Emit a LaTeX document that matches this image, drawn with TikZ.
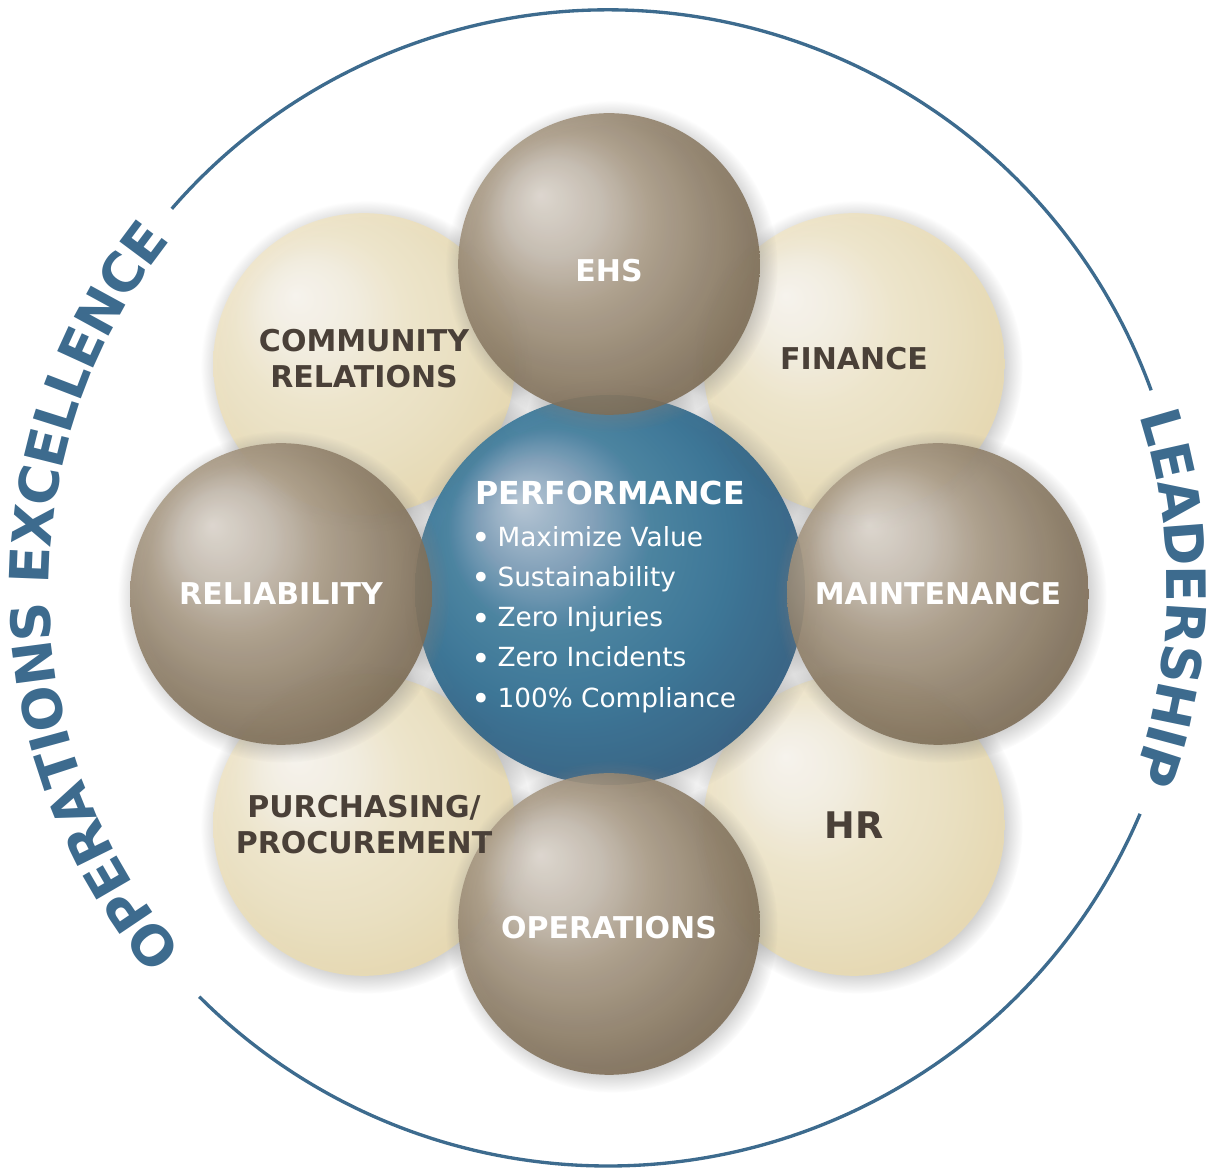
\documentclass[tikz,border=0pt]{standalone}
\usepackage{fontspec}
\setmainfont{DejaVu Sans}
\usetikzlibrary{shadows,decorations.text}

\definecolor{ringblue}{RGB}{61,107,142}
\definecolor{lbldark}{RGB}{74,64,56}
% brown sphere
\definecolor{brA}{RGB}{224,217,208}
\definecolor{brB}{RGB}{198,188,175}
\definecolor{brC}{RGB}{172,157,136}
\definecolor{brD}{RGB}{146,130,107}
\definecolor{brE}{RGB}{121,104,81}
\definecolor{brF}{RGB}{112,96,73}
% cream sphere
\definecolor{crA}{RGB}{250,247,240}
\definecolor{crB}{RGB}{245,239,224}
\definecolor{crC}{RGB}{240,231,205}
\definecolor{crD}{RGB}{236,225,192}
\definecolor{crE}{RGB}{231,217,176}
\definecolor{crF}{RGB}{228,212,166}
% blue sphere
\definecolor{blA}{RGB}{182,199,214}
\definecolor{blB}{RGB}{128,160,186}
\definecolor{blC}{RGB}{66,126,158}
\definecolor{blD}{RGB}{50,112,146}
\definecolor{blE}{RGB}{46,90,127}
\definecolor{blF}{RGB}{44,84,120}

% sphere shadings, light spot up left (circle edge sits at 25bp)
\pgfdeclareradialshading{ballbrown}{\pgfpoint{-11.5bp}{11.5bp}}{color(0bp)=(brA); color(8bp)=(brB); color(14bp)=(brC); color(22bp)=(brD); color(30bp)=(brE); color(40bp)=(brF)}
\pgfdeclareradialshading{ballcream}{\pgfpoint{-11.5bp}{11.5bp}}{color(0bp)=(crA); color(8bp)=(crB); color(14bp)=(crC); color(22bp)=(crD); color(30bp)=(crE); color(40bp)=(crF)}
\pgfdeclareradialshading{ballblue}{\pgfpoint{-11.5bp}{11.5bp}}{color(0bp)=(blA); color(7bp)=(blB); color(13bp)=(blC); color(21bp)=(blD); color(30bp)=(blE); color(40bp)=(blF)}

\newcommand\pbul{\makebox[13.4pt][l]{\hspace{-2.5pt}\raisebox{-2pt}{\fontsize{20}{20}\selectfont•}}}

\begin{document}
\begin{tikzpicture}[x=0.6pt, y=0.6pt,
    sphere/.style={circle, inner sep=0pt, minimum size=181pt,
                   circular drop shadow={shadow xshift=1.5pt, shadow yshift=-1.5pt, opacity=.45}},
    brownball/.style={sphere, shading=ballbrown, fill opacity=.88},
    creamball/.style={sphere, shading=ballcream, fill opacity=.94},
    darklbl/.style={text=lbldark, font=\fontsize{18}{21.6}\selectfont\bfseries, align=center},
    lightlbl/.style={text=white, font=\fontsize{18}{21.6}\selectfont\bfseries, align=center},
    ring/.style={draw=ringblue, line width=2pt},
    ringtext/.style={decorate, decoration={text along path, text align=center,
                     raise=-11.5pt, text color=ringblue,
                     text={|\fontsize{32.5}{32}\selectfont\bfseries|#1}}}]

  \useasboundingbox (0,0) rectangle (1208,1170);

  % outer ring, open left and right for the titles
  \draw[ring] (608,582) ++(20:578) arc[start angle=20, end angle=139, radius=578];
  \draw[ring] (608,582) ++(225:578) arc[start angle=225, end angle=337, radius=578];
  \path[ringtext={OPERATIONS EXCELLENCE}] (608,582) ++(226:578) arc[start angle=226, end angle=136, radius=578];
  \path[ringtext={LEADERSHIP}] (608,582) ++(24:578) arc[start angle=24, end angle=-26, radius=578];

  % cream spheres
  \node[creamball] (com) at (364,806) {};
  \node[creamball] (fin) at (854,806) {};
  \node[creamball] (pur) at (364,345) {};
  \node[creamball] (hr)  at (854,345) {};

  % centre sphere
  \node[sphere, minimum size=234pt, shading=ballblue, fill opacity=.92] (perf) at (610,580) {};

  % brown spheres
  \node[brownball] (ehs) at (609,906) {};
  \node[brownball] (rel) at (281,576) {};
  \node[brownball] (mnt) at (938,576) {};
  \node[brownball] (ops) at (609,246) {};

  % labels on top
  \node[darklbl, yshift=3pt] (com-t) at (com) {COMMUNITY\\RELATIONS};
  \node[darklbl, yshift=3.5pt] (fin-t) at (fin) {FINANCE};
  \node[darklbl] (pur-t) at (pur) {PURCHASING/\\PROCUREMENT};
  \node[darklbl, font=\fontsize{22}{22}\selectfont\bfseries] (hr-t) at (hr) {HR};
  \node[lightlbl, yshift=-4pt] (ehs-t) at (ehs) {EHS};
  \node[lightlbl] (rel-t) at (rel) {RELIABILITY};
  \node[lightlbl] (mnt-t) at (mnt) {MAINTENANCE};
  \node[lightlbl, yshift=-2pt] (ops-t) at (ops) {OPERATIONS};

  \node[text=white, align=left, font=\fontsize{15.8}{24.2}\selectfont, yshift=-4pt] (perf-t) at (perf)
    {{\fontsize{19}{24}\selectfont\bfseries PERFORMANCE}\\[1pt]
     \pbul Maximize Value\\
     \pbul Sustainability\\
     \pbul Zero Injuries\\
     \pbul Zero Incidents\\
     \pbul 100\% Compliance};
\end{tikzpicture}
\end{document}
